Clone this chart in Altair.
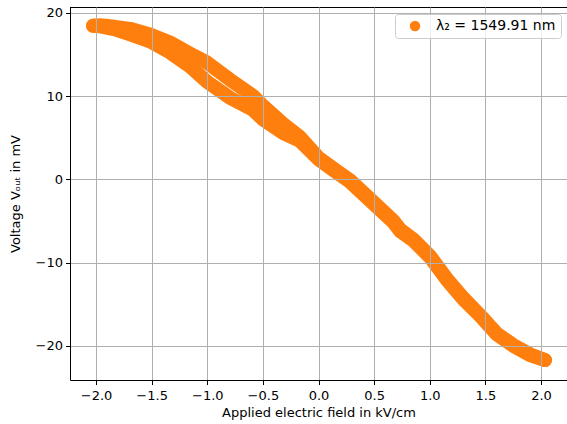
import altair as alt
import pandas as pd

# Upper branch of the hysteresis loop (field kV/cm, voltage mV)
upper_x = [-2.027, -1.964, -1.829, -1.694, -1.515, -1.335, -1.155, -1.002, -0.796, -0.589,
           -0.499, -0.316, -0.166, 0.000, 0.133, 0.283, 0.500, 0.672, 0.733, 0.852,
           1.002, 1.152, 1.302, 1.452, 1.602, 1.751, 1.901, 2.036]
upper_y = [18.44, 18.50, 18.32, 18.08, 17.41, 16.44, 15.11, 14.03, 11.97, 10.04,
           8.83, 6.65, 5.08, 2.60, 1.30, -0.10, -2.80, -4.95, -6.00, -7.20,
           -9.20, -11.90, -14.25, -16.30, -18.50, -19.90, -21.00, -21.70]

# Lower branch of the hysteresis loop
lower_x = [-2.027, -1.964, -1.829, -1.694, -1.515, -1.335, -1.155, -1.002, -0.796, -0.589,
           -0.499, -0.316, -0.166, 0.000, 0.133, 0.283, 0.500, 0.672, 0.733, 0.852,
           1.002, 1.152, 1.302, 1.452, 1.602, 1.751, 1.901, 2.036]
lower_y = [18.44, 18.38, 18.02, 17.41, 16.57, 15.24, 13.54, 11.73, 9.79, 8.34,
           7.20, 5.55, 4.60, 2.40, 1.10, -0.30, -3.00, -5.15, -6.20, -7.35,
           -9.35, -12.05, -14.40, -16.40, -18.60, -20.00, -21.10, -21.70]

label = "\u03bb\u2082 = 1549.91 nm"

x_ticks = [-2.0, -1.5, -1.0, -0.5, 0.0, 0.5, 1.0, 1.5, 2.0]
y_ticks = [-20, -10, 0, 10, 20]

rows = []
for i, (xv, yv) in enumerate(zip(upper_x, upper_y)):
    rows.append({"E": xv, "V": yv, "branch": "up", "order": i, "series": label})
for i, (xv, yv) in enumerate(zip(lower_x, lower_y)):
    rows.append({"E": xv, "V": yv, "branch": "down", "order": i, "series": label})
df = pd.DataFrame(rows)

W, H = 497, 373
orange = "#ff7f0e"
FS = 13

band = alt.Chart(df).mark_line(strokeWidth=14, strokeCap="round", strokeJoin="round").encode(
    x=alt.X("E:Q", scale=alt.Scale(domain=[-2.234, 2.234], nice=False, zero=False),
            axis=alt.Axis(values=x_ticks, format=".1f", title="Applied electric field in kV/cm",
                          zindex=1, labelPadding=5, titlePadding=4,
                          titleFontWeight="normal")),
    y=alt.Y("V:Q", scale=alt.Scale(domain=[-24.1, 20.7], nice=False, zero=False),
            axis=alt.Axis(values=y_ticks, format="d", title="Voltage V\u2092\u1d64\u209c in mV",
                          zindex=1, labelPadding=3, titlePadding=13,
                          titleFontWeight="normal")),
    detail="branch:N",
    order="order:Q",
    color=alt.Color("series:N", scale=alt.Scale(range=[orange]),
                    legend=alt.Legend(title=None, orient="none", legendX=325, legendY=7,
                                      symbolType="circle", symbolFillColor=orange,
                                      symbolStrokeColor=orange, symbolStrokeWidth=0,
                                      symbolSize=110, symbolOffset=8, labelOffset=14,
                                      padding=5, fillColor="rgba(255,255,255,0.8)",
                                      strokeColor="#cccccc", cornerRadius=3,
                                      labelFont="DejaVu Sans", labelFontSize=14,
                                      labelColor="black", zindex=2)),
)

top_spine = alt.Chart(df).mark_rule(color="black", strokeWidth=1).encode(
    x=alt.value(0), x2=alt.value(W), y=alt.value(0.5)
)

chart = alt.layer(band, top_spine).properties(
    width=W, height=H,
    padding={"left": 70, "top": 7, "right": 0, "bottom": 44},
    autosize=alt.AutoSizeParams(type="none"),
    background="white",
).configure_view(stroke=None).configure_axis(
    domainColor="black", domainWidth=1, tickColor="black", tickSize=4.5, tickWidth=1,
    gridColor="#b0b0b0", gridWidth=1, labelFont="DejaVu Sans", labelFontSize=FS,
    labelColor="black", titleFont="DejaVu Sans", titleFontSize=FS,
    titleFontWeight="normal", titleColor="black",
)

chart.save("out.html", embed_options={"renderer": "svg", "actions": False})
